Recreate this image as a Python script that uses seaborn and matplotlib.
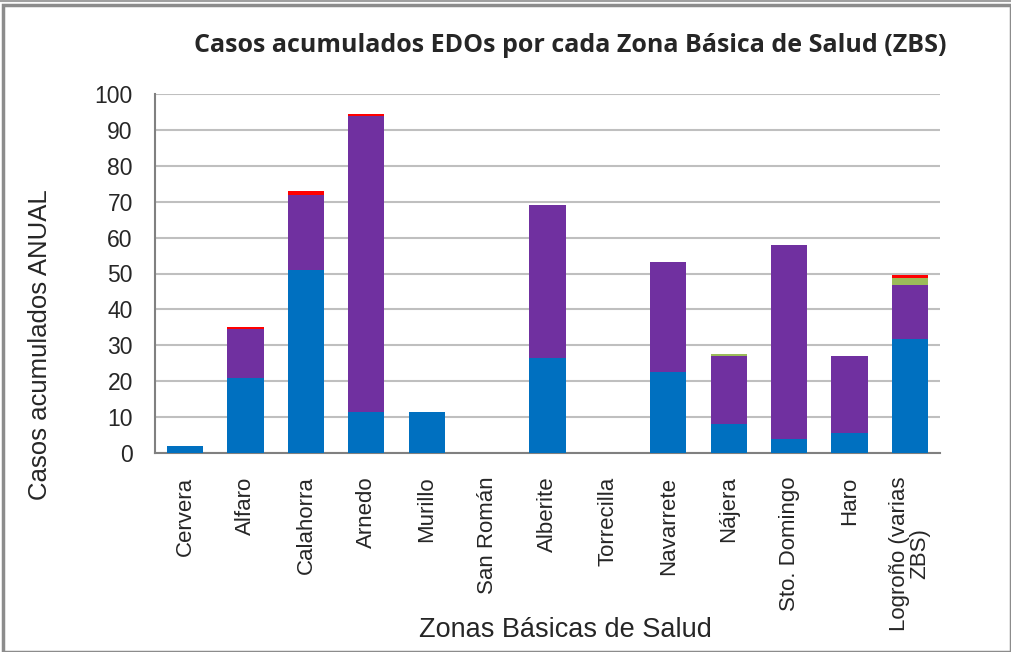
import numpy as np
import pandas as pd
import seaborn as sns
import matplotlib.pyplot as plt
from matplotlib.patches import Rectangle

# data
zonas = ['Cervera', 'Alfaro', 'Calahorra', 'Arnedo', 'Murillo', 'San Román',
         'Alberite', 'Torrecilla', 'Navarrete', 'Nájera', 'Sto. Domingo',
         'Haro', 'Logroño (varias\nZBS)']
serie_azul = [2, 21, 51, 11.5, 11.5, 0, 26.5, 0, 22.7, 8, 4, 5.5, 31.7]
serie_morada = [0, 13.6, 21, 82.3, 0, 0, 42.7, 0, 30.5, 19, 54, 21.5, 15]
serie_verde = [0, 0, 0, 0, 0, 0, 0, 0, 0, 0.5, 0, 0, 2]
serie_roja = [0, 0.5, 1, 0.5, 0, 0, 0, 0, 0, 0, 0, 0, 1]

colores = ['#0070C0', '#7030A0', '#9BBB59', '#FF0000']

sns.set_style('white')
plt.rcParams['font.family'] = ['Liberation Sans', 'DejaVu Sans']

df = pd.DataFrame({'zona': zonas, 'azul': serie_azul, 'morada': serie_morada,
                   'verde': serie_verde, 'roja': serie_roja})
capas = ['azul', 'morada', 'verde', 'roja']
acum = df[capas].cumsum(axis=1)

fig = plt.figure(figsize=(10.11, 6.52), dpi=100)
ax = fig.add_axes([155 / 1011, 1 - 453 / 652, 785 / 1011, 359 / 652])

# stacked: draw cumulative totals from top layer down
for capa, color in zip(reversed(capas), reversed(colores)):
    sns.barplot(x=df['zona'], y=acum[capa], color=color, width=0.6,
                saturation=1, linewidth=0, ax=ax, zorder=3)

ax.set_ylim(0, 100)
ax.set_xlim(-0.5, len(zonas) - 0.5)
ax.set_yticks(range(0, 101, 10))
ax.yaxis.grid(True, color='#BFBFBF', linewidth=1.5, zorder=0)
ax.set_axisbelow(True)
for s in ['top', 'right']:
    ax.spines[s].set_visible(False)
for s in ['left', 'bottom']:
    ax.spines[s].set_color('#808080')
    ax.spines[s].set_linewidth(1.5)

ax.set_xticks(np.arange(-0.5, len(zonas), 1), minor=True)
ax.tick_params(axis='x', which='minor', length=7, color='#808080', width=1.5, direction='out')
ax.tick_params(axis='x', which='major', length=0, pad=17)
ax.tick_params(axis='y', length=7, color='#808080', width=1.5, direction='out',
               labelsize=16.5, pad=9)
ax.set_xticks(range(len(zonas)))
ax.set_xticklabels(zonas, rotation=90, fontsize=16, va='top', ha='center',
                   linespacing=0.95)
ax.set_xlabel('')
ax.set_ylabel('')

fig.text(570 / 1011, 1 - 45 / 652, 'Casos acumulados EDOs por cada Zona Básica de Salud (ZBS)',
         ha='center', va='center', fontsize=18, fontweight='bold',
         family=['Open Sans', 'DejaVu Sans'])
fig.text(40 / 1011, 1 - 345 / 652, 'Casos acumulados ANUAL', rotation=90,
         ha='center', va='center', fontsize=18.5)
fig.text(565 / 1011, 1 - 630 / 652, 'Zonas Básicas de Salud',
         ha='center', va='center', fontsize=19.5)

# outer frame
fig.patches.append(Rectangle((3 / 1011, 0), 1 - 3 / 1011, 1 - 5 / 652,
                             transform=fig.transFigure, fill=False,
                             edgecolor='#8C8C8C', linewidth=2.5))
fig.lines.append(plt.Line2D([0, 1], [1 - 1 / 652, 1 - 1 / 652],
                            transform=fig.transFigure, color='#A0A0A0', linewidth=1.5))

plt.savefig('out.png', dpi=100)
